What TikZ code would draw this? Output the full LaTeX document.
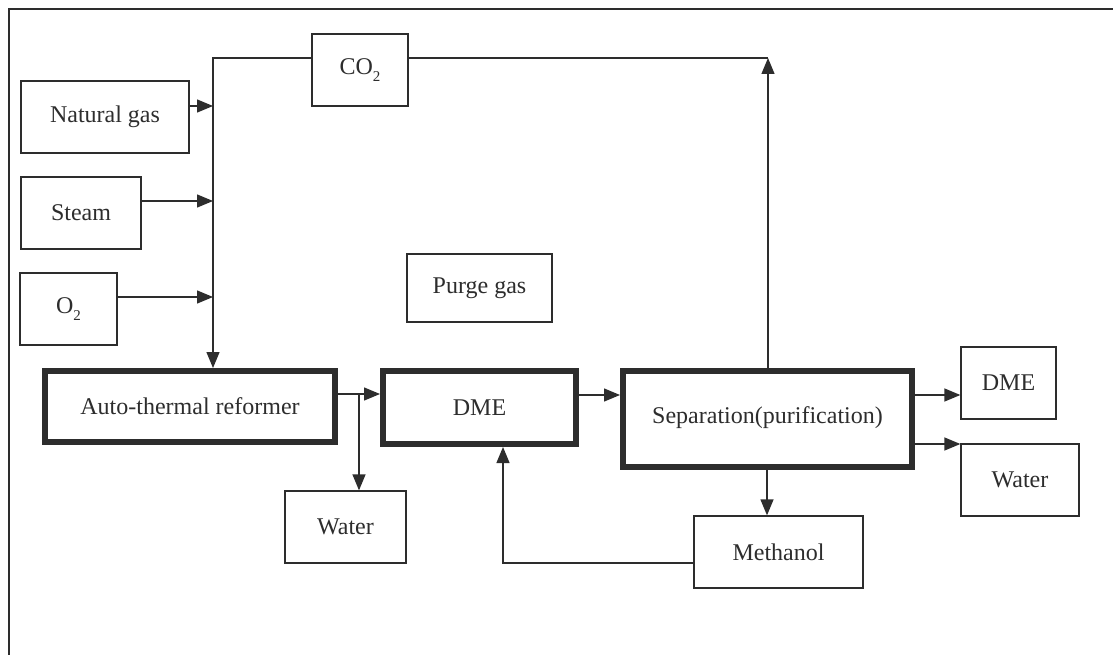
\documentclass[tikz,border=0pt]{standalone}
\usepackage{fontspec}
\setmainfont{Liberation Serif}
\usetikzlibrary{arrows.meta}
\definecolor{ink}{RGB}{45,45,45}
\begin{document}
\begin{tikzpicture}[x=1pt,y=-1pt,
  font=\fontsize{24}{28}\selectfont,
  box/.style={draw=ink,line width=1.3pt,rectangle,inner sep=0pt,text=ink},
  thickbox/.style={draw=ink,line width=6pt,rectangle,inner sep=0pt,text=ink},
  conn/.style={draw=ink,line width=1.3pt},
  arr/.style={conn,-{Triangle[length=16pt,width=13pt]}}]
\useasboundingbox (0,0) rectangle (1113,655);
\fill[white] (0,0) rectangle (1113,655);
% frame
\draw[ink,line width=1.5pt] (1113,9) -- (9,9) -- (9,655);
% thin boxes
\node[box,minimum width=168pt,minimum height=72pt] (ng) at (105,117) {Natural gas};
\node[box,minimum width=120pt,minimum height=72pt] (steam) at (81,213) {Steam};
\node[box,minimum width=97pt,minimum height=72pt] (o2) at (68.5,309) {O\raisebox{-7pt}{\fontsize{15}{15}\selectfont 2}};
\node[box,minimum width=96pt,minimum height=72pt] (co2) at (360,70) {CO\raisebox{-7pt}{\fontsize{15}{15}\selectfont 2}};
\node[box,minimum width=145pt,minimum height=68pt] (purge) at (479.5,288) {Purge gas};
\node[box,minimum width=121pt,minimum height=72pt] (water1) at (345.5,527) {Water};
\node[box,minimum width=169pt,minimum height=72pt] (meth) at (778.5,552) {Methanol};
\node[box,minimum width=95pt,minimum height=72pt] (dme2) at (1008.5,383) {DME};
\node[box,minimum width=118pt,minimum height=72pt] (water2) at (1020,480) {Water};
% thick boxes
\node[thickbox,minimum width=290pt,minimum height=71pt] (atr) at (190,406.5) {Auto-thermal reformer};
\node[thickbox,minimum width=193pt,minimum height=73pt] (dme) at (479.5,407.5) {DME};
\node[thickbox,minimum width=289pt,minimum height=96pt] (sep) at (767.5,419) {\raisebox{7pt}{Separation(purification)}};
% junction coordinates
\coordinate (tl) at (213,58);
\coordinate (tr) at (768,58);
\coordinate (jng) at (213,106);
\coordinate (jst) at (213,201);
\coordinate (jo2) at (213,297);
\coordinate (jw) at (359,394);
\coordinate (jd) at (0,395);
\coordinate (jw2) at (0,444);
\coordinate (jm) at (503,563);
% feeds
\draw[arr] (ng.east |- jng) -- (jng);
\draw[arr] (steam.east |- jst) -- (jst);
\draw[arr] (o2.east |- jo2) -- (jo2);
% CO2 loop
\draw[arr] (co2.west |- tl) -- (tl) -- (atr.north -| tl);
\draw[conn] (co2.east |- tr) -- (tr);
\draw[arr] (sep.north -| tr) -- (tr);
% main line
\draw[arr] (atr.east |- jw) -- (dme.west |- jw);
\draw[arr] (jw) -- (water1.north -| jw);
\draw[arr] (dme.east |- jd) -- (sep.west |- jd);
\draw[arr] (sep.east |- jd) -- (dme2.west |- jd);
\draw[arr] (sep.east |- jw2) -- (water2.west |- jw2);
\draw[arr] (sep.south -| 767,0) -- (meth.north -| 767,0);
\draw[arr] (meth.west |- jm) -- (jm) -- (dme.south -| jm);
\end{tikzpicture}
\end{document}
